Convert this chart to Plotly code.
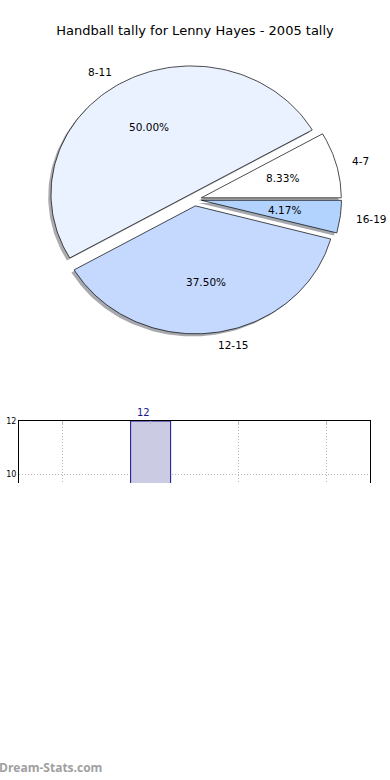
import numpy as np
import plotly.graph_objects as go

# ---- data ----
categories = ["4-7", "8-11", "12-15", "16-19"]
tally = [2, 12, 9, 1]
slice_colors = ["#ffffff", "#eaf1ff", "#c5d9ff", "#b3d3ff"]
title_text = "Handball tally for Lenny Hayes - 2005 tally"
bar_ticks = [10, 12]

# ---- geometry helpers (pie drawn on a free-aspect axis, like matplotlib) ----
W, H = 390, 780
CX, CY = 194.5, 199.5       # pixel centre of pie
SX, SY = 140.0, 128.0       # pixel per data unit (elliptical pie)
EXPLODE = 0.05
SHADOW = 0.02

pie_top_px, pie_bot_px = 40, 360
px_x_range = [(0 - CX) / SX, (W - CX) / SX]
px_y_range = [(CY - pie_bot_px) / SY, (CY - pie_top_px) / SY]

fig = go.Figure()

total = float(sum(tally))
fracs = [v / total for v in tally]
starts = np.concatenate([[0.0], np.cumsum(fracs)[:-1]]) * 360.0
ends = np.cumsum(fracs) * 360.0

wedges = []
for cat, f, a0, a1, col in zip(categories, fracs, starts, ends, slice_colors):
    mid = np.deg2rad((a0 + a1) / 2)
    ox, oy = EXPLODE * np.cos(mid), EXPLODE * np.sin(mid)
    th = np.deg2rad(np.linspace(a0, a1, 120))
    xs = np.concatenate([[ox], ox + np.cos(th), [ox]])
    ys = np.concatenate([[oy], oy + np.sin(th), [oy]])
    wedges.append((cat, f, mid, ox, oy, xs, ys, col))

# shadows first (underneath)
for cat, f, mid, ox, oy, xs, ys, col in wedges:
    rgb = [int(col[i:i + 2], 16) for i in (1, 3, 5)]
    sh = "rgba(%d,%d,%d,0.45)" % tuple(int(0.3 * c) for c in rgb)
    fig.add_trace(go.Scatter(x=xs - SHADOW, y=ys - SHADOW, mode="lines", fill="toself",
                             fillcolor=sh, line=dict(width=0), hoverinfo="skip",
                             showlegend=False, xaxis="x2", yaxis="y2"))
for cat, f, mid, ox, oy, xs, ys, col in wedges:
    fig.add_trace(go.Scatter(x=xs, y=ys, mode="lines", fill="toself", fillcolor=col,
                             line=dict(color="#000000", width=0.7), name=cat,
                             showlegend=False, xaxis="x2", yaxis="y2"))

annotations = []
for cat, f, mid, ox, oy, xs, ys, col in wedges:
    lx, ly = ox + 1.1 * np.cos(mid), oy + 1.1 * np.sin(mid)
    annotations.append(dict(x=lx, y=ly, xref="x2", yref="y2", text=cat, showarrow=False,
                            xanchor="left" if lx > 0 else "right", yanchor="middle",
                            font=dict(size=10.5, color="#000000")))
    px, py = ox + 0.6 * np.cos(mid), oy + 0.6 * np.sin(mid)
    annotations.append(dict(x=px, y=py, xref="x2", yref="y2", text="%.2f%%" % (f * 100),
                            showarrow=False, xanchor="center", yanchor="middle",
                            font=dict(size=10.5, color="#000000")))

# ---- bar chart (truncated, as in the reference) ----
bar_top_px, bar_bot_px = 421, 483
px_per_unit = (474 - 421) / 2.0
ymin = 12 - (bar_bot_px - bar_top_px) / px_per_unit
fig.add_trace(go.Bar(x=list(range(len(categories))), y=tally, width=0.456,
                     marker=dict(color="#cbcce3", line=dict(color="#10108f", width=1)),
                     showlegend=False, xaxis="x", yaxis="y"))
for i, v in enumerate(tally):
    if v >= ymin:
        annotations.append(dict(x=i, y=v, xref="x", yref="y", text=str(v), showarrow=False,
                                xanchor="center", yanchor="bottom", xshift=-7, yshift=1,
                                font=dict(size=10, color="#1a1a8c")))

annotations.append(dict(x=0, y=0, xref="paper", yref="paper", text="<b>Dream-Stats.com</b>",
                        showarrow=False, xanchor="left", yanchor="bottom", yshift=2, xshift=-3,
                        font=dict(size=12, color="#a0a0a0", family="Open Sans, DejaVu Sans")))

fig.update_layout(
    width=W, height=H, margin=dict(l=0, r=0, t=0, b=0, autoexpand=False),
    paper_bgcolor="white", plot_bgcolor="white",
    font=dict(family="DejaVu Sans", color="#000000"),
    title=dict(text=title_text, x=0.5, xanchor="center", y=1 - 30 / H, yanchor="middle",
               font=dict(size=13, color="#000000")),
    xaxis2=dict(domain=[0, 1], range=px_x_range, visible=False, anchor="y2", fixedrange=True),
    yaxis2=dict(domain=[1 - pie_bot_px / H, 1 - pie_top_px / H], range=px_y_range,
                visible=False, anchor="x2", fixedrange=True),
    xaxis=dict(domain=[19 / W, 370 / W], range=[-0.5, len(categories) - 0.5], anchor="y",
               side="top", showline=True, linecolor="#000000", linewidth=1,
               showgrid=True, gridcolor="#b8b8b8", griddash="1px,2px", gridwidth=1,
               tickvals=list(range(len(categories))), showticklabels=False,
               ticks="inside", ticklen=3, tickcolor="#b8b8b8", zeroline=False),
    yaxis=dict(domain=[1 - bar_bot_px / H, 1 - bar_top_px / H], range=[ymin, 12], anchor="x",
               showline=True, mirror=True, linecolor="#000000", linewidth=1,
               showgrid=True, gridcolor="#b8b8b8", griddash="1px,2px", gridwidth=1,
               tickvals=bar_ticks, ticks="", tickfont=dict(size=8), zeroline=False),
    annotations=annotations,
)

fig.write_html(
    "out.html",
    config={"displayModeBar": False},
    post_script="document.documentElement.style.margin='0';document.body.style.margin='0';"
                "document.body.style.overflow='hidden';",
)
